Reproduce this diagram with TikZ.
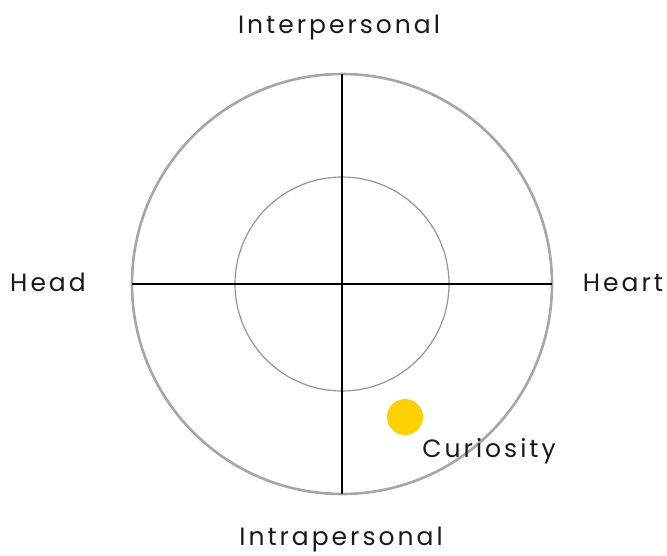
\documentclass[tikz,border=0pt]{standalone}
\usepackage{fontspec}
\setmainfont{Poppins}[LetterSpace=12]
\usetikzlibrary{positioning}
\definecolor{ringgray}{HTML}{A6A6A6}
\definecolor{dotgold}{HTML}{FFD100}

\begin{document}
\begin{tikzpicture}[x=1pt, y=-1pt,
    axis label/.style={font=\fontsize{25}{29}\selectfont, text=black!90, inner sep=0pt},
  ]
  \useasboundingbox (0,0) rectangle (667,555);

  \coordinate (o) at (342, 284);
  \coordinate (top) at (342, 74);
  \coordinate (bottom) at (342, 494);
  \coordinate (left) at (132, 284);
  \coordinate (right) at (552, 284);

  \draw[ringgray, line width=2.6pt] (o) circle (210);
  \draw[ringgray!90!black, line width=1.2pt] (o) circle (107);

  \draw[black, line width=1.3pt] (top) -- (bottom);
  \draw[black, line width=1.3pt] (left) -- (right);

  \node[circle, fill=dotgold, minimum size=36pt, inner sep=0pt] (dot) at (405, 417) {};

  \node[axis label] (inter) at (339, 27) {Interpersonal};
  \node[axis label] (intra) at (341, 539) {Intrapersonal};
  \node[axis label] (head) at (48, 282) {Head};
  \node[axis label] (heart) at (623, 283) {Heart};
  \node[axis label] (curio) at (489, 451) {Curiosity};

\end{tikzpicture}
\end{document}
